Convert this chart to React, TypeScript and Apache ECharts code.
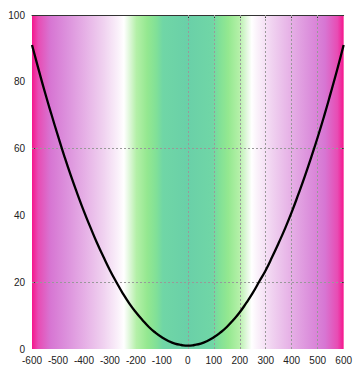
import React, { useEffect, useRef } from "react";
import * as echarts from "echarts";

// Sampled curve: x positions and the measured values at each.
const xValues = [
  -600, -575, -550, -525, -500, -475, -450, -425, -400, -375, -350, -325, -300,
  -275, -250, -225, -200, -175, -150, -125, -100, -75, -50, -25, 0, 25, 50, 75,
  100, 125, 150, 175, 200, 225, 250, 275, 300, 325, 350, 375, 400, 425, 450,
  475, 500, 525, 550, 575, 600,
];
const yValues = [
  91.0, 83.8, 76.8, 70.2, 63.8, 57.6, 51.8, 46.4, 41.2, 36.4, 31.8, 27.6, 23.6,
  20.0, 16.6, 13.6, 11.0, 8.7, 6.6, 4.9, 3.5, 2.4, 1.6, 1.2, 1.0, 1.2, 1.6, 2.4,
  3.5, 4.9, 6.6, 8.7, 11.0, 13.8, 16.8, 20.2, 23.6, 27.6, 31.8, 36.2, 41.0,
  46.2, 51.6, 57.4, 63.4, 69.8, 76.6, 83.6, 91.0,
];

const xTickLabels = [-600, -500, -400, -300, -200, -100, 0, 100, 200, 300, 400, 500, 600];
const yTickLabels = [0, 20, 40, 60, 80, 100];
const xGridValues = [0, 100, 200, 300, 400, 500];
const yGridValues = [20, 60];

// Left half of the background colour ramp; mirrored for the right half.
const rampLeft: [number, string][] = [
  [0.0, "#f5168c"],
  [0.02, "#e84cb4"],
  [0.06, "#d776d3"],
  [0.11, "#dc90dc"],
  [0.17, "#e6b0e6"],
  [0.23, "#f0d2f0"],
  [0.275, "#faf0fa"],
  [0.295, "#ffffff"],
  [0.31, "#e4f8e0"],
  [0.335, "#b4f0a8"],
  [0.37, "#94e890"],
  [0.4, "#80e098"],
  [0.42, "#70d6a6"],
  [0.5, "#6ad0a8"],
];

export default function App() {
  const ref = useRef<HTMLDivElement>(null);

  useEffect(() => {
    if (!ref.current) return;
    const chart = echarts.init(ref.current, null, { renderer: "svg" });

    const stops = [
      ...rampLeft.map(([o, c]) => ({ offset: o, color: c })),
      ...rampLeft
        .slice(0, -1)
        .reverse()
        .map(([o, c]) => ({ offset: 1 - o, color: c })),
    ];

    const labelStyle = {
      color: "#222",
      fontSize: 10,
      lineHeight: 10,
      fontFamily: "Liberation Sans, Arial, sans-serif",
    };

    const tickStyle = {
      show: true,
      inside: true,
      length: 3,
      customValues: yGridValues,
      lineStyle: { color: "#333" },
    };

    chart.setOption({
      animation: false,
      grid: {
        left: 32,
        right: 8,
        top: 15,
        bottom: 20,
        show: true,
        borderWidth: 0,
        backgroundColor: new echarts.graphic.LinearGradient(0, 0, 1, 0, stops),
      },
      xAxis: [
        {
          type: "value",
          min: -600,
          max: 600,
          interval: 100,
          position: "bottom",
          axisLine: { show: false, onZero: false },
          axisTick: { show: false },
          splitLine: { show: false },
          axisLabel: {
            ...labelStyle,
            margin: 6,
            customValues: xTickLabels,
          },
        },
        {
          type: "value",
          min: -600,
          max: 600,
          position: "top",
          axisLine: { show: true, onZero: false, lineStyle: { color: "#333", width: 1 } },
          axisTick: { ...tickStyle, customValues: xGridValues },
          axisLabel: { show: false },
          splitLine: { show: false },
        },
      ],
      yAxis: [
        {
          type: "value",
          min: 0,
          max: 100,
          interval: 20,
          position: "left",
          axisLine: { show: false, onZero: false },
          axisTick: tickStyle,
          splitLine: { show: false },
          axisLabel: {
            ...labelStyle,
            margin: 7,
            customValues: yTickLabels,
          },
        },
        {
          type: "value",
          min: 0,
          max: 100,
          position: "right",
          axisLine: { show: false, onZero: false },
          axisTick: tickStyle,
          axisLabel: { show: false },
          splitLine: { show: false },
        },
      ],
      series: [
        {
          type: "line",
          xAxisIndex: 0,
          yAxisIndex: 0,
          data: xValues.map((x, i) => [x, yValues[i]]),
          showSymbol: false,
          smooth: true,
          lineStyle: { color: "#000", width: 2.3 },
          z: 5,
          markLine: {
            silent: true,
            symbol: "none",
            label: { show: false },
            lineStyle: { color: "#999", type: [2, 2], width: 1 },
            data: [
              ...xGridValues.map((v) => ({ xAxis: v })),
              ...yGridValues.map((v) => ({ yAxis: v })),
            ],
            z: 1,
          },
        },
      ],
    });

    return () => chart.dispose();
  }, []);

  return (
    <div
      ref={ref}
      style={{ position: "fixed", left: 0, top: 0, width: 355, height: 369, background: "#fff" }}
    />
  );
}
